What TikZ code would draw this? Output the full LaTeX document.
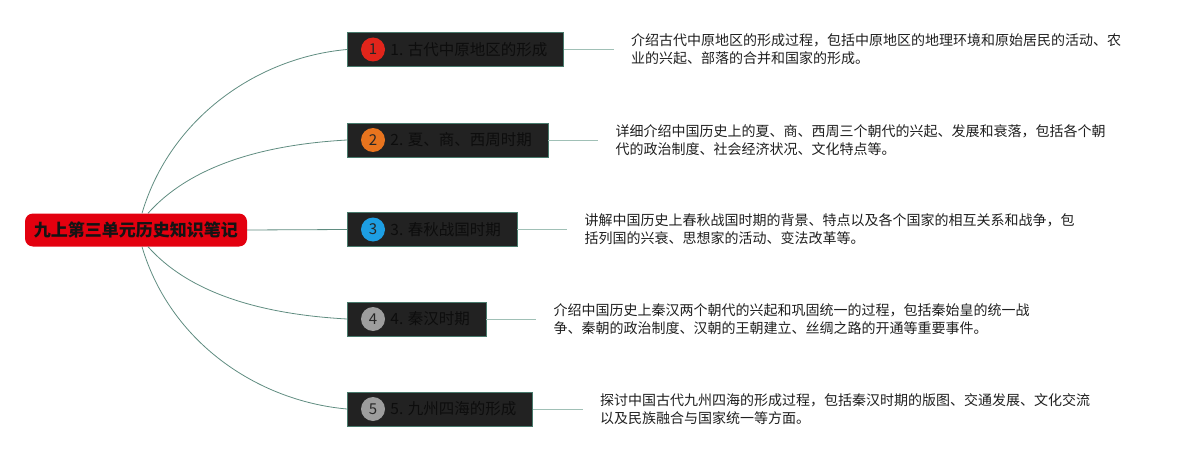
\documentclass[tikz,border=0pt]{standalone}
\usepackage{fontspec}
\setmainfont{Noto Sans CJK SC}
\usetikzlibrary{positioning}
\definecolor{rootred}{RGB}{227,0,15}
\definecolor{boxgray}{RGB}{34,34,34}
\definecolor{boxedge}{RGB}{72,122,108}
\definecolor{branchline}{RGB}{95,140,128}
\definecolor{stubline}{RGB}{160,192,182}
\definecolor{badgered}{RGB}{225,37,27}
\definecolor{badgeorange}{RGB}{232,116,30}
\definecolor{badgeblue}{RGB}{29,158,227}
\definecolor{badgegray}{RGB}{157,157,157}

\begin{document}
\begin{tikzpicture}[x=1pt, y=-1pt,
  rootbox/.style={fill=rootred, rounded corners=8pt, minimum width=222pt, minimum height=33pt,
    inner sep=0pt, font=\fontsize{17}{20}\selectfont\bfseries, text=black!92},
  topic/.style={fill=boxgray, draw=boxedge, line width=0.8pt, minimum height=34pt,
    inner xsep=16pt, inner ysep=0pt, anchor=west, font=\fontsize{15.5}{18}\selectfont, text=black!95},
  badge/.style={circle, minimum size=24pt, inner sep=0pt, font=\fontsize{15}{18}\selectfont, text=black!85},
  branch/.style={draw=branchline, line width=0.8pt},
  stub/.style={draw=stubline, line width=1pt},
  desc/.style={align=left, inner sep=0pt, font=\fontsize{14}{18}\selectfont, text=black!88}]
  \useasboundingbox (0,0) rectangle (1189,460);

  \node[rootbox] (root) at (136,230) {九上第三单元历史知识笔记};

  % topics with their notes
  \foreach \i/\y/\col/\name/\info in {
    1/49.5/badgered/古代中原地区的形成/{介绍古代中原地区的形成过程，包括中原地区的地理环境和原始居民的活动、农\\业的兴起、部落的合并和国家的形成。},
    2/140/badgeorange/夏、商、西周时期/{详细介绍中国历史上的夏、商、西周三个朝代的兴起、发展和衰落，包括各个朝\\代的政治制度、社会经济状况、文化特点等。},
    3/229.5/badgeblue/春秋战国时期/{讲解中国历史上春秋战国时期的背景、特点以及各个国家的相互关系和战争，包\\括列国的兴衰、思想家的活动、变法改革等。},
    4/319/badgegray/秦汉时期/{介绍中国历史上秦汉两个朝代的兴起和巩固统一的过程，包括秦始皇的统一战\\争、秦朝的政治制度、汉朝的王朝建立、丝绸之路的开通等重要事件。},
    5/409/badgegray/九州四海的形成/{探讨中国古代九州四海的形成过程，包括秦汉时期的版图、交通发展、文化交流\\以及民族融合与国家统一等方面。}} {
    \node[topic] (t\i) at (347,\y) {\hspace*{27pt}\i. \name};
    \node[badge, fill=\col] (b\i) at ([xshift=26pt]t\i.west) {\i};
    \coordinate (e\i) at ([xshift=50pt]t\i.east);
    \draw[stub] (t\i.east) -- (e\i);
    \node[desc, right=17pt of e\i] (d\i) {\info};
  }

  % branches from the root
  \draw[branch] ([xshift=6pt]root.north) .. controls +(28,-95) and +(-90,8) .. (t1.west);
  \draw[branch] ([xshift=12pt]root.north) .. controls +(40,-45) and +(-90,5) .. (t2.west);
  \draw[branch] (root.east) -- (t3.west);
  \draw[branch] ([xshift=12pt]root.south) .. controls +(40,45) and +(-90,-5) .. (t4.west);
  \draw[branch] ([xshift=6pt]root.south) .. controls +(28,95) and +(-90,-8) .. (t5.west);
\end{tikzpicture}
\end{document}
